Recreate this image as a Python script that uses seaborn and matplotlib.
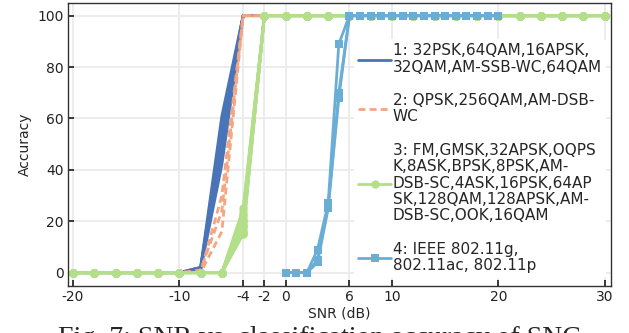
import numpy as np
import pandas as pd
import matplotlib
matplotlib.use("Agg")
import matplotlib.pyplot as plt
from matplotlib.lines import Line2D
import seaborn as sns

# ---------------- data ----------------
snr_coarse = list(range(-20, 31, 2))          # groups 1-3
snr_fine = list(range(0, 21, 1))              # group 4

# values at -8, -6 (then 100 from -4 on, 0 before)
g1_vals_m8 = [1, 2, 1, 2, 1, 2]
g1_vals_m6 = [42, 46, 50, 54, 58, 61]
g2_vals_m8 = [0, 1, 0]
g2_vals_m6 = [16, 24, 30]
# group 3: 0 up to -6, value at -4, 100 from -2 on
g3_vals_m4 = [15, 16, 17, 18, 19, 20, 21, 22, 23, 24, 25, 16, 18, 20, 15]
# group 4: values at 0..6 dB, then 100
g4_curves = [
    [0, 0, 0, 9, 27, 89, 100],
    [0, 0, 0, 4, 25, 68, 100],
    [0, 0, 0, 5, 26, 70, 100],
]

labels = [
    "1: 32PSK,64QAM,16APSK,\n32QAM,AM-SSB-WC,64QAM",
    "2: QPSK,256QAM,AM-DSB-\nWC",
    "3: FM,GMSK,32APSK,OQPS\nK,8ASK,BPSK,8PSK,AM-\nDSB-SC,4ASK,16PSK,64AP\nSK,128QAM,128APSK,AM-\nDSB-SC,OOK,16QAM",
    "4: IEEE 802.11g,\n802.11ac, 802.11p",
]
colors = ["#4a74b8", "#f4a582", "#b3df8a", "#6aaed6"]
xticks = [-20, -10, -4, -2, 0, 6, 10, 20, 30]
yticks = [0, 20, 40, 60, 80, 100]
caption = "Fig. 7: SNR vs. classification accuracy of SNC"


def coarse_curve(knots):
    out = []
    for x in snr_coarse:
        out.append(knots.get(x, 0 if x < min(knots) else 100))
    return out


rows = []
for i, (a, b) in enumerate(zip(g1_vals_m8, g1_vals_m6)):
    for x, y in zip(snr_coarse, coarse_curve({-8: a, -6: b, -4: 100})):
        rows.append(dict(group=1, unit=f"1-{i}", snr=x, acc=y))
for i, (a, b) in enumerate(zip(g2_vals_m8, g2_vals_m6)):
    for x, y in zip(snr_coarse, coarse_curve({-8: a, -6: b, -4: 100})):
        rows.append(dict(group=2, unit=f"2-{i}", snr=x, acc=y))
for i, a in enumerate(g3_vals_m4):
    for x, y in zip(snr_coarse, coarse_curve({-6: 0, -4: a, -2: 100})):
        rows.append(dict(group=3, unit=f"3-{i}", snr=x, acc=y))
for i, c in enumerate(g4_curves):
    full = c + [100] * (len(snr_fine) - len(c))
    for x, y in zip(snr_fine, full):
        rows.append(dict(group=4, unit=f"4-{i}", snr=x, acc=y))
df = pd.DataFrame(rows)

# ---------------- style ----------------
sns.set_theme(style="whitegrid", rc={
    "grid.color": "#ebebeb",
    "grid.linewidth": 1.3,
    "axes.edgecolor": "#333333",
    "axes.linewidth": 1.0,
    "xtick.direction": "in",
    "ytick.direction": "in",
    "xtick.bottom": True,
    "ytick.left": True,
    "xtick.major.size": 4,
    "ytick.major.size": 4,
    "xtick.color": "#333333",
    "ytick.color": "#333333",
})
plt.rcParams["font.family"] = ["DejaVu Sans"]

fig = plt.figure(figsize=(6.29, 3.33), dpi=100)
ax = fig.add_axes([0.1076, 0.1411, 0.8638, 0.849])

styles = {
    1: dict(linestyle="-", marker=None, markersize=0),
    2: dict(linestyle=(0, (2.5, 1.5)), marker=None, markersize=0),
    3: dict(linestyle="-", marker="o", markersize=6),
    4: dict(linestyle="-", marker="s", markersize=5.5),
}
for g in [1, 2, 3, 4]:
    sub = df[df.group == g]
    st = styles[g]
    for u, d in sub.groupby("unit", sort=False):
        sns.lineplot(data=d, x="snr", y="acc", ax=ax, color=colors[g - 1],
                     linewidth=2.0, linestyle=st["linestyle"],
                     marker=st["marker"], markersize=st["markersize"],
                     markeredgewidth=0, legend=False, estimator=None, sort=False)

ax.set_xlim(-20.5, 30.6)
ax.set_ylim(-5.2, 104.8)
ax.set_xticks(xticks)
ax.set_xticklabels([str(t) for t in xticks])
ax.set_yticks(yticks)
ax.tick_params(labelsize=10, pad=3, colors="#222222")
ax.set_xlabel("SNR (dB)", fontsize=10, labelpad=2)
ax.set_ylabel("Accuracy", fontsize=10)
for s in ax.spines.values():
    s.set_visible(True)
    s.set_color("#333333")

handles = []
for g in [1, 2, 3, 4]:
    st = styles[g]
    handles.append(Line2D([], [], color=colors[g - 1], linewidth=2.0,
                          linestyle=st["linestyle"], marker=st["marker"],
                          markersize=st["markersize"], markeredgewidth=0))
leg = ax.legend(handles, labels, loc="center right", fontsize=11,
                bbox_to_anchor=(1.0, 0.452),
                frameon=True, framealpha=1, facecolor="white", edgecolor="none",
                labelspacing=1.2, handlelength=2.15, handletextpad=0.1,
                borderaxespad=0.3, borderpad=0.3)
for t in leg.get_texts():
    t.set_linespacing(1.12)

fig.text(0.092, -0.036, caption,
         family="Liberation Serif", fontsize=20, va="baseline", ha="left")

fig.savefig("out.png", dpi=100)
